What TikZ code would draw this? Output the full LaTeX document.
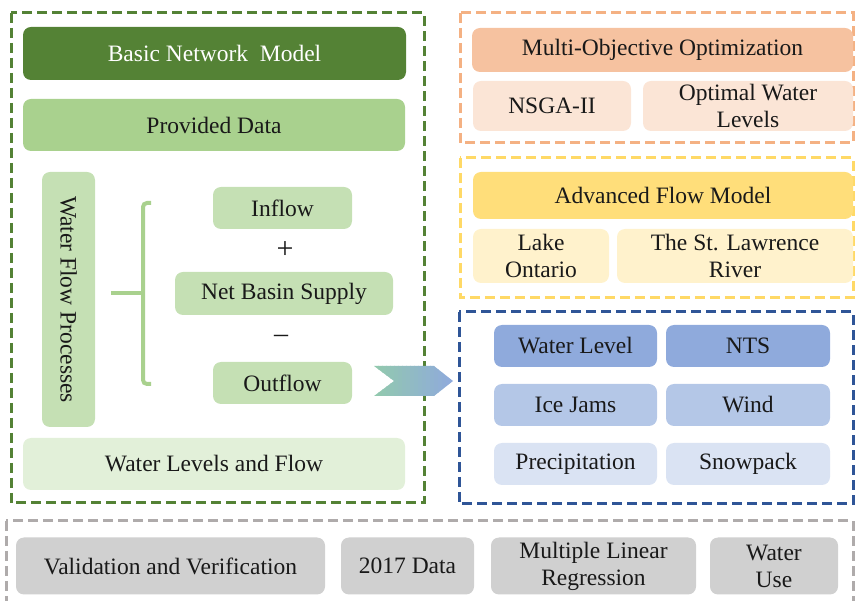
\documentclass[tikz,border=0pt]{standalone}
\usepackage{graphicx}
\usepackage{fontspec}
\newfontfamily\timesfont{Liberation Serif}

\definecolor{gdark}{HTML}{548235}
\definecolor{gmid}{HTML}{A9D18E}
\definecolor{glight}{HTML}{C5E0B4}
\definecolor{gpale}{HTML}{E2F0D9}
\definecolor{ohead}{HTML}{F6C2A0}
\definecolor{osub}{HTML}{FBE5D6}
\definecolor{odash}{HTML}{F4B183}
\definecolor{yhead}{HTML}{FFDE7A}
\definecolor{ysub}{HTML}{FFF2CC}
\definecolor{ydash}{HTML}{FFD966}
\definecolor{bone}{HTML}{8FAADC}
\definecolor{btwo}{HTML}{B4C7E7}
\definecolor{bthree}{HTML}{DAE3F3}
\definecolor{bdash}{HTML}{2F5597}
\definecolor{gybox}{HTML}{D0D0D0}
\definecolor{gydash}{HTML}{AFABAB}
\definecolor{chevl}{HTML}{92C9AE}

\tikzset{
  box/.style={rounded corners=8pt, inner sep=0pt, align=center,
    font=\timesfont\fontsize{23.5}{27}\selectfont, text=black!90},
  group/.style={line width=3pt, dash pattern=on 10pt off 5pt},
  brace/.style={draw=gmid, line width=4pt, rounded corners=4pt}
}

\begin{document}
\begin{tikzpicture}[x=1pt,y=-1pt]
\useasboundingbox (0,0) rectangle (855,601);

% basic network model
\draw[group, gdark] (11,13) rectangle (424,503);
\node[box, fill=gdark, text=white, minimum width=383pt, minimum height=53pt] (basic) at (214.5,53.5) {Basic Network\ \ Model};
\node[box, fill=gmid, minimum width=382pt, minimum height=52pt] (data) at (214,125) {Provided Data};
\node[box, fill=glight, minimum width=53pt, minimum height=255pt] (wfp) at (68.5,299.5) {\rotatebox{-90}{Water Flow Processes}};
\node[box, fill=glight, minimum width=139pt, minimum height=42pt] (inflow) at (282.5,208) {Inflow};
\node[box, fill=glight, minimum width=218pt, minimum height=43pt] (nbs) at (284,293.5) {Net Basin Supply};
\node[box, fill=glight, minimum width=139pt, minimum height=42pt] (outflow) at (282.5,383) {Outflow};
\node[box] (plus) at (285,250) {\fontsize{30}{30}\selectfont +};
\node[box] (minus) at (281,339) {\fontsize{28}{28}\selectfont \textendash};
\node[box, fill=gpale, minimum width=382pt, minimum height=52pt] (levels) at (214,464) {Water Levels and Flow};

% bracket
\coordinate (brk) at (143,293);
\coordinate (stem) at (111,293);
\draw[brace] (151,203) -- (143,203) -- (143,384) -- (151,384);
\draw[draw=gmid, line width=4pt] (stem) -- (brk);

% arrow to the right column, filled in thin strips
\begin{scope}
  \clip (374,366) -- (434,366) -- (453,381) -- (434,396) -- (374,396) -- (394,381) -- cycle;
  \foreach \i in {0,...,19} {
    \pgfmathsetmacro{\p}{\i*100/19}
    \fill[bone!\p!chevl] (374+\i*4,365) rectangle (378.6+\i*4,397);
  }
\end{scope}

% multi-objective optimization
\draw[group, odash] (460,13) rectangle (853,143);
\node[box, fill=ohead, minimum width=381pt, minimum height=44pt] (moo) at (662.5,50) {Multi-Objective Optimization};
\node[box, fill=osub, minimum width=158pt, minimum height=50pt] (nsga) at (552,106) {NSGA-II};
\node[box, fill=osub, minimum width=210pt, minimum height=50pt] (optimal) at (748,106) {Optimal Water\\Levels};

% advanced flow model
\draw[group, ydash] (460,158) rectangle (853,298);
\node[box, fill=yhead, minimum width=380pt, minimum height=47pt] (afm) at (663,195.5) {Advanced Flow Model};
\node[box, fill=ysub, minimum width=136pt, minimum height=54pt] (lake) at (541,256) {Lake\\Ontario};
\node[box, fill=ysub, minimum width=236pt, minimum height=54pt] (river) at (735,256) {The St. Lawrence\\River};

% factors
\draw[group, bdash] (459,312) rectangle (853,504);
\node[box, fill=bone, minimum width=163pt, minimum height=42pt] (wl) at (575.5,346) {Water Level};
\node[box, fill=bone, minimum width=164pt, minimum height=42pt] (nts) at (748,346) {NTS};
\node[box, fill=btwo, minimum width=163pt, minimum height=42pt] (ice) at (575.5,405) {Ice Jams};
\node[box, fill=btwo, minimum width=164pt, minimum height=42pt] (wind) at (748,405) {Wind};
\node[box, fill=bthree, minimum width=163pt, minimum height=42pt] (precip) at (575.5,464) {Precipitation};
\node[box, fill=bthree, minimum width=164pt, minimum height=42pt] (snow) at (748,464) {Snowpack};

% bottom row
\begin{scope}
  \clip (0,0) rectangle (855,601);
  \draw[group, gydash] (6,521) rectangle (853,620);
\end{scope}
\node[box, fill=gybox, minimum width=309pt, minimum height=57pt] (valid) at (170.5,566) {Validation and Verification};
\node[box, fill=gybox, minimum width=133pt, minimum height=57pt] (y2017) at (407.5,566) {2017 Data};
\node[box, fill=gybox, minimum width=205pt, minimum height=57pt] (mlr) at (593.5,566) {Multiple Linear\\Regression};
\node[box, fill=gybox, minimum width=128pt, minimum height=57pt] (use) at (774,566) {Water\\Use};
\end{tikzpicture}
\end{document}
